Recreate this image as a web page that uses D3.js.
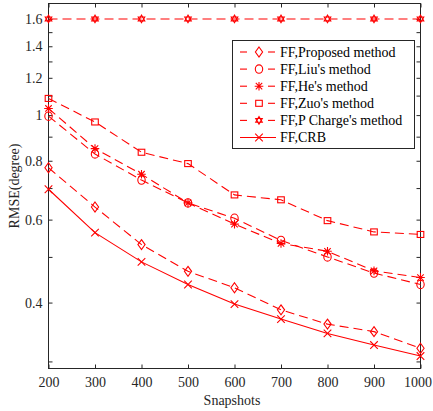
<!DOCTYPE html>
<html><head><meta charset="utf-8">
<script src="https://cdn.jsdelivr.net/npm/d3@7"></script>
<style>body{margin:0;background:#fff}svg{display:block}</style>
</head><body>
<svg id="c" width="433" height="411"></svg>
<script>
const snapshots = [200,300,400,500,600,700,800,900,1000];
const proposed = [0.773,0.638,0.531,0.466,0.430,0.386,0.360,0.347,0.320];
const liu      = [0.995,0.827,0.728,0.651,0.604,0.542,0.500,0.462,0.437];
const he       = [1.033,0.849,0.749,0.651,0.587,0.534,0.514,0.467,0.452];
const zuo      = [1.085,0.967,0.834,0.789,0.677,0.661,0.597,0.565,0.558];
const pcharge  = [1.6,1.6,1.6,1.6,1.6,1.6,1.6,1.6,1.6];
const crb      = [0.696,0.563,0.488,0.437,0.397,0.369,0.344,0.325,0.308];
const seriesNames = ["FF,Proposed method","FF,Liu's method","FF,He's method","FF,Zuo's method","FF,P Charge's method","FF,CRB"];
const yTickValues = [0.3,0.4,0.5,0.6,0.7,0.8,0.9,1.0,1.1,1.2,1.3,1.4,1.5,1.6];
const yTickLabels = [0.4,0.6,0.8,1,1.2,1.4,1.6];
const xTickValues = [200,300,400,500,600,700,800,900,1000];

const series = [
  {name:seriesNames[0], vals:proposed, marker:"diamond", dashed:true},
  {name:seriesNames[1], vals:liu, marker:"circle", dashed:true},
  {name:seriesNames[2], vals:he, marker:"asterisk", dashed:true},
  {name:seriesNames[3], vals:zuo, marker:"square", dashed:true},
  {name:seriesNames[4], vals:pcharge, marker:"hexagram", dashed:true},
  {name:seriesNames[5], vals:crb, marker:"x", dashed:false}
];

const L=48.5, R=420.5, T=3.5, B=368.5;
const red="#ff0000", axc="#262626";
const font="'Liberation Serif','Times New Roman',serif";
const svg=d3.select("#c");
const x=d3.scaleLinear().domain([200,1000]).range([L,R]);
const y=d3.scaleLog().domain([0.2898,1.7255]).range([B,T]);

const xb=svg.append("g").attr("transform",`translate(0,${B})`)
  .call(d3.axisBottom(x).tickValues(xTickValues).tickSize(-4).tickPadding(9).tickFormat(d3.format("d")));
const xt=svg.append("g").attr("transform",`translate(0,${T})`)
  .call(d3.axisTop(x).tickValues(xTickValues).tickSize(-4).tickFormat(""));
const yl=svg.append("g").attr("transform",`translate(${L},0)`)
  .call(d3.axisLeft(y).tickValues(yTickValues).tickSize(-4).tickPadding(6)
    .tickFormat(d=>yTickLabels.some(v=>Math.abs(v-d)<1e-6)?d3.format("")(+d.toFixed(1)):""));
const yr=svg.append("g").attr("transform",`translate(${R},0)`)
  .call(d3.axisRight(y).tickValues(yTickValues).tickSize(-4).tickFormat(""));
[xb,xt,yl,yr].forEach(g=>{
  g.select(".domain").remove();
  g.selectAll("line").attr("stroke",axc);
  g.selectAll("text").style("font-family",font).attr("font-size",14).attr("fill",axc);
});
// keep the last x label inside the window
xb.selectAll(".tick text").filter(d=>d===1000).attr("dx",-3);
svg.append("rect").attr("x",L).attr("y",T).attr("width",R-L).attr("height",B-T)
  .attr("fill","none").attr("stroke",axc).attr("stroke-width",1);

svg.append("text").attr("x",232).attr("y",405).attr("text-anchor","middle")
  .style("font-family",font).attr("font-size",14).attr("fill",axc).text("Snapshots");
svg.append("text").attr("transform","translate(19,186) rotate(-90)").attr("text-anchor","middle")
  .style("font-family",font).attr("font-size",14).attr("fill",axc).text("RMSE(degree)");

function drawMarker(g,type,cx,cy){
  const s={fill:"none",stroke:red,"stroke-width":1.1};
  const a=(el)=>{for(const k in s) el.attr(k,s[k]); return el;};
  if(type==="diamond"){
    a(g.append("path").attr("d",`M${cx},${cy-5}L${cx+3.6},${cy}L${cx},${cy+5}L${cx-3.6},${cy}Z`));
  } else if(type==="circle"){
    a(g.append("ellipse").attr("cx",cx).attr("cy",cy).attr("rx",3.7).attr("ry",4.2));
  } else if(type==="square"){
    a(g.append("rect").attr("x",cx-3.3).attr("y",cy-3).attr("width",6.6).attr("height",6));
  } else if(type==="asterisk"){
    const r=4.3;
    a(g.append("path").attr("d",`M${cx-r},${cy}H${cx+r}M${cx},${cy-r}V${cy+r}M${cx-r*0.75},${cy-r*0.75}L${cx+r*0.75},${cy+r*0.75}M${cx-r*0.75},${cy+r*0.75}L${cx+r*0.75},${cy-r*0.75}`));
  } else if(type==="x"){
    const r=3.8;
    a(g.append("path").attr("d",`M${cx-r},${cy-r}L${cx+r},${cy+r}M${cx-r},${cy+r}L${cx+r},${cy-r}`));
  } else if(type==="hexagram"){
    const r=3.8;
    const tri=(off)=>d3.range(3).map(i=>{const t=off+i*2*Math.PI/3;return [cx+r*Math.sin(t),cy-r*Math.cos(t)];});
    a(g.append("path").attr("d","M"+tri(0).join("L")+"Z"));
    a(g.append("path").attr("d","M"+tri(Math.PI).join("L")+"Z"));
  }
}

const line=d3.line().x((d,i)=>x(snapshots[i])).y(d=>y(d));
const plot=svg.append("g");
series.forEach(s=>{
  plot.append("path").attr("d",line(s.vals)).attr("fill","none").attr("stroke",red)
    .attr("stroke-width",1.1).attr("stroke-dasharray",s.dashed?"9,5":null);
  s.vals.forEach((v,i)=>drawMarker(plot,s.marker,x(snapshots[i]),y(v)));
});

// legend
const lg=svg.append("g");
lg.append("rect").attr("x",232.5).attr("y",40.5).attr("width",182).attr("height",108)
  .attr("fill","#fff").attr("stroke",axc).attr("stroke-width",1);
series.forEach((s,i)=>{
  const yy=52+i*17.1;
  if(s.dashed){
    lg.append("line").attr("x1",240).attr("x2",247).attr("y1",yy).attr("y2",yy).attr("stroke",red).attr("stroke-width",1.1);
    lg.append("line").attr("x1",268).attr("x2",275).attr("y1",yy).attr("y2",yy).attr("stroke",red).attr("stroke-width",1.1);
  } else {
    lg.append("line").attr("x1",240).attr("x2",276).attr("y1",yy).attr("y2",yy).attr("stroke",red).attr("stroke-width",1.1);
  }
  drawMarker(lg,s.marker,259,yy);
  lg.append("text").attr("x",280).attr("y",yy+4.8).style("font-family",font).attr("font-size",14)
    .attr("fill","#000").text(s.name);
});
</script>
</body></html>
